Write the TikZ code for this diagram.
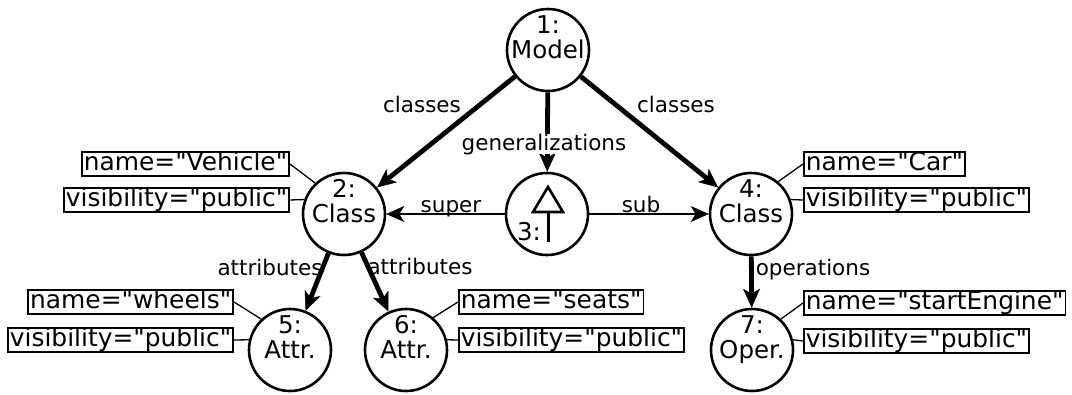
\documentclass[tikz,border=0pt]{standalone}
\usepackage{fontspec}
\setmainfont{DejaVu Sans}[Ligatures=TeXOff]
\usetikzlibrary{arrows.meta,calc}
\begin{document}
\begin{tikzpicture}[x=1pt,y=-1pt,
  obj/.style={circle,draw,line width=2.6pt,minimum size=82pt,inner sep=0pt},
  objtext/.style={anchor=south,align=center,inner sep=0pt,text depth=0pt,
    font=\fontsize{24.5}{25}\selectfont},
  attr/.style={draw,line width=1.6pt,inner xsep=2pt,inner ysep=0pt,
    text height=18.5pt,text depth=5.6pt,font=\fontsize{24.9}{26}\selectfont},
  lbl/.style={anchor=base,inner sep=0pt,font=\fontsize{21.5}{23}\selectfont},
  link/.style={line width=1.3pt},
  heavy/.style={line width=4.8pt,
    -{Stealth[length=19pt,width=17pt,inset=5pt,line width=0.5pt]}},
  light/.style={line width=1.8pt,
    -{Stealth[length=18pt,width=16pt,inset=5pt,line width=0.5pt]}},
]
\useasboundingbox (0,0) rectangle (1072,394);

% object nodes
\node[obj] (n1) at (548,50) {};
\node[obj] (n2) at (344,214) {};
\node[obj] (n3) at (547,214) {};
\node[obj] (n4) at (751,214) {};
\node[obj] (n5) at (290,350) {};
\node[obj] (n6) at (406,350) {};
\node[obj] (n7) at (752,350) {};

\node[objtext] (t1) at ($(n1.center)+(0,9)$) {1:\\Model};
\node[objtext] (t2) at ($(n2.center)+(0,9)$) {2:\\Class};
\node[objtext] (t4) at ($(n4.center)+(0,9)$) {4:\\Class};
\node[objtext] (t5) at ($(n5.center)+(0,9)$) {5:\\Attr.};
\node[objtext] (t6) at ($(n6.center)+(0,9)$) {6:\\Attr.};
\node[objtext] (t7) at ($(n7.center)+(0,9)$) {7:\\Oper.};

% generalization symbol inside object 3
\draw[line width=2.6pt,line join=miter]
  ($(n3.center)+(1,-27)$) -- ($(n3.center)+(16,-2)$) -- ($(n3.center)+(-14,-2)$) -- cycle;
\draw[line width=3pt] ($(n3.center)+(1,-2)$) -- ($(n3.center)+(1,28)$);
\node[anchor=base,inner sep=0pt,font=\fontsize{24.5}{25}\selectfont] (t3)
  at ($(n3.center)+(-18,26)$) {3:};

% attribute value boxes
\node[attr,anchor=east] (nm2) at (290,164) {name="Vehicle"};
\node[attr,anchor=east] (vs2) at (290,200) {visibility="public"};
\node[attr,anchor=west] (nm4) at (803,164) {name="Car"};
\node[attr,anchor=west] (vs4) at (803,200) {visibility="public"};
\node[attr,anchor=east] (nm5) at (234,302) {name="wheels"};
\node[attr,anchor=east] (vs5) at (234,340) {visibility="public"};
\node[attr,anchor=west] (nm6) at (458,302) {name="seats"};
\node[attr,anchor=west] (vs6) at (458,340) {visibility="public"};
\node[attr,anchor=west] (nm7) at (803,303) {name="startEngine"};
\node[attr,anchor=west] (vs7) at (803,341) {visibility="public"};

\draw[link] (nm2.east) -- (n2.133);
\draw[link] (vs2.east) -- (n2.160);
\draw[link] (nm4.west) -- (n4.50);
\draw[link] (vs4.west) -- (n4.20);
\draw[link] (nm5.east) -- (n5.133);
\draw[link] (vs5.east) -- (n5.166);
\draw[link] (nm6.west) -- (n6.50);
\draw[link] (vs6.west) -- (n6.14);
\draw[link] (nm7.west) -- (n7.47);
\draw[link] (vs7.west) -- (n7.14);

% references between objects
\draw[heavy] (n1) -- (n2);
\draw[heavy] (n1) -- (n4);
\draw[heavy] (n1) -- (n3);
\draw[light] (n3) -- (n2);
\draw[light] (n3) -- (n4);
\draw[heavy] (n2) -- (n5);
\draw[heavy] (n2) -- (n6);
\draw[heavy] (n4) -- (n7);

% reference labels
\node[lbl] (e1) at (422,112) {classes};
\node[lbl] (e2) at (676,112) {classes};
\node[lbl,fill=white] (e3) at (544,150) {generalizations};
\node[lbl] (e4) at (451,212) {super};
\node[lbl] (e5) at (641,212) {sub};
\node[lbl] (e6) at (270,275) {attributes};
\node[lbl] (e7) at (420,274) {attributes};
\node[lbl] (e8) at (813,275) {operations};
\end{tikzpicture}
\end{document}
